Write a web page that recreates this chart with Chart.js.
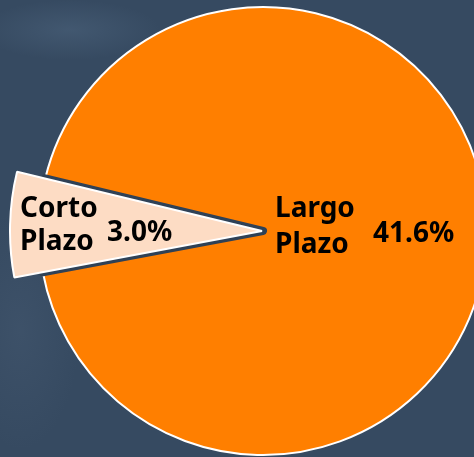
<!DOCTYPE html>
<html>
<head>
<meta charset="utf-8">
<script src="https://cdn.jsdelivr.net/npm/chart.js@4.4.0/dist/chart.umd.min.js"></script>
<style>
  html, body { margin: 0; padding: 0; }
  body {
    width: 474px; height: 457px; overflow: hidden; position: relative;
    background:
      radial-gradient(ellipse 90px 30px at 70px 30px, rgba(120,150,180,0.18), rgba(0,0,0,0)),
      radial-gradient(ellipse 60px 120px at 20px 330px, rgba(90,110,135,0.2), rgba(0,0,0,0)),
      #364a61;
  }
  canvas { position: absolute; }
  #pieBase { left: 35px; top: 3px; }
  #pieTop { left: 9px; top: -22px; }
</style>
</head>
<body>
<canvas id="pieBase" width="456" height="456"></canvas>
<canvas id="pieTop" width="506" height="506"></canvas>
<script>
// data
const categories = ["Largo Plazo", "Corto Plazo"];
const values = [41.6, 3.0];
const sliceColors = ["#ff7f00", "#fddcc4"];
const boardColor = "#2f4156";

// where the texts sit, relative to the pie centre
const labelSpots = [
  { nameX: 13, nameY: [-14, 22], valX: 111, valY: 11 },
  { nameX: -242, nameY: [-14, 19], valX: -155, valY: 10 }
];

const sliceLabels = {
  id: "sliceLabels",
  afterDatasetsDraw(chart) {
    const ctx = chart.ctx;
    const arcs = chart.getDatasetMeta(0).data;
    ctx.save();
    ctx.fillStyle = "#000";
    ctx.font = "bold 28px 'Noto Sans'";
    ctx.textAlign = "left";
    ctx.textBaseline = "alphabetic";
    arcs.forEach((arc, i) => {
      const spot = labelSpots[i];
      categories[i].split(" ").forEach((word, k) => {
        ctx.fillText(word, arc.x + spot.nameX, arc.y + spot.nameY[k]);
      });
      ctx.fillText(values[i].toFixed(1) + "%", arc.x + spot.valX, arc.y + spot.valY);
    });
    ctx.restore();
  }
};

const common = {
  responsive: false,
  animation: false,
  rotation: -76.4,
  layout: { padding: 0 },
  events: [],
  plugins: { legend: { display: false }, tooltip: { enabled: false } }
};

// bottom layer: the big orange slice, with a dark hole where the small one goes
new Chart(document.getElementById("pieBase"), {
  type: "pie",
  data: {
    labels: categories,
    datasets: [{
      data: values,
      backgroundColor: [sliceColors[0], boardColor],
      borderColor: ["#ffffff", boardColor],
      borderWidth: [2, 8],
      borderJoinStyle: "round"
    }]
  },
  options: common
});

// top layer: the small slice pulled out a bit larger, plus the texts
new Chart(document.getElementById("pieTop"), {
  type: "pie",
  data: {
    labels: categories,
    datasets: [{
      data: values,
      backgroundColor: ["rgba(0,0,0,0)", sliceColors[1]],
      borderColor: ["rgba(0,0,0,0)", "#ffffff"],
      borderWidth: [0, 2]
    }]
  },
  options: common,
  plugins: [sliceLabels]
});
</script>
</body>
</html>
